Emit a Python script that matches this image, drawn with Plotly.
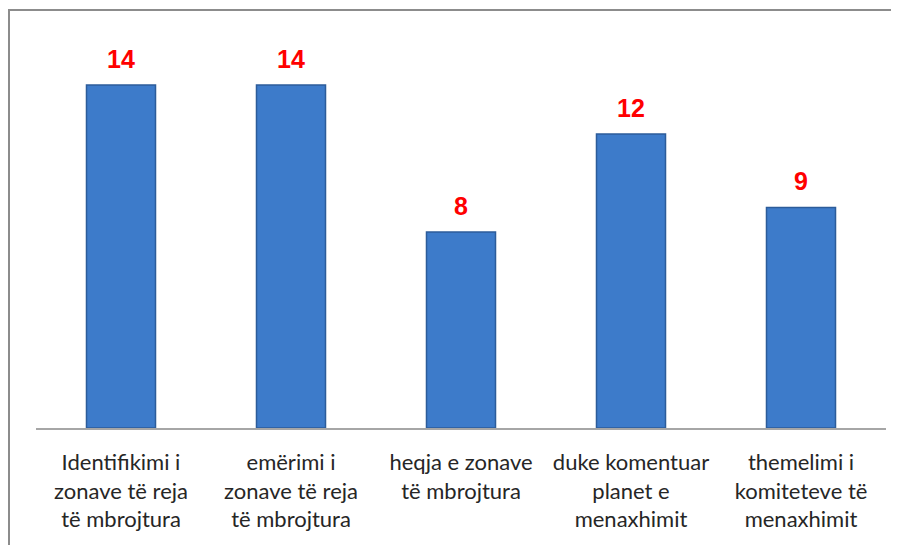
import plotly.graph_objects as go

# Category labels (line breaks as in the original chart)
CATEGORIES = [
    "Identifikimi i<br>zonave të reja<br>të mbrojtura",
    "emërimi i<br>zonave të reja<br>të mbrojtura",
    "heqja e zonave<br>të mbrojtura",
    "duke komentuar<br>planet e<br>menaxhimit",
    "themelimi i<br>komiteteve të<br>menaxhimit",
]
VALUES = [14, 14, 8, 12, 9]

BAR_FILL = "#3d7bca"
BAR_EDGE = "#2c5c9a"
LABEL_RED = "#ff0000"
INK = "#262626"
AXIS_GREY = "#a6a6a6"
FONT = "Lato, 'Open Sans', sans-serif"

# the page body keeps its default 8px margin, so the figure is drawn 8px in
PAGE_PAD = 8
W, H = 899 - PAGE_PAD, 545 - PAGE_PAD
M_L, M_R, M_T, M_B = 36 - PAGE_PAD, 13, 30 - PAGE_PAD, 117

fig = go.Figure()
fig.add_trace(
    go.Bar(
        x=CATEGORIES,
        y=VALUES,
        marker=dict(color=BAR_FILL, line=dict(color=BAR_EDGE, width=1.5)),
        hoverinfo="skip",
    )
)

# value labels above each bar
for cat, val in zip(CATEGORIES, VALUES):
    fig.add_annotation(
        x=cat,
        y=val,
        text=f"<b>{val}</b>",
        showarrow=False,
        yanchor="bottom",
        yshift=10,
        font=dict(color=LABEL_RED, size=25, family="'Liberation Sans', Arial, sans-serif"),
    )

# outer chart frame (top and left edges visible in the crop)
pw = W - M_L - M_R
ph = H - M_T - M_B
fig.add_shape(
    type="rect",
    xref="paper",
    yref="paper",
    x0=-(M_L - 1) / pw,
    x1=1.2,
    y0=-0.5,
    y1=1 + (M_T - 2) / ph,
    line=dict(color="#8c8c8c", width=2),
    layer="below",
)

fig.update_layout(
    width=W,
    height=H,
    margin=dict(l=M_L, r=M_R, t=M_T, b=M_B),
    paper_bgcolor="white",
    plot_bgcolor="white",
    bargap=0.594,
    showlegend=False,
    font=dict(family=FONT, color=INK),
    xaxis=dict(
        showline=True,
        linecolor=AXIS_GREY,
        linewidth=1.5,
        ticks="",
        tickfont=dict(size=22, color=INK, family=FONT),
        ticklabelstandoff=14,
        automargin=False,
        showgrid=False,
    ),
    yaxis=dict(
        range=[0, 16.24],
        visible=False,
        showgrid=False,
    ),
)

fig.write_html("out.html")
